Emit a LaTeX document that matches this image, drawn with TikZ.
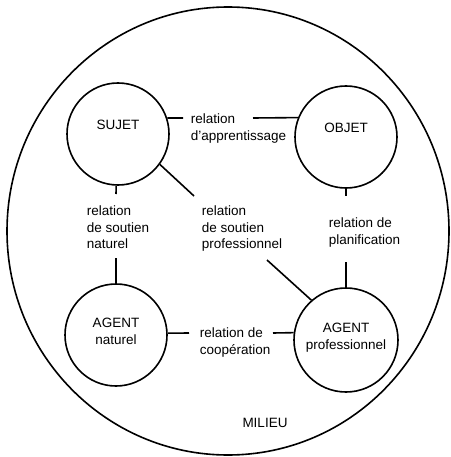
\documentclass[tikz,border=0pt]{standalone}
\usepackage{fontspec}
\setmainfont{Liberation Sans}
\begin{document}
\begin{tikzpicture}[x=1pt,y=-1pt,line width=1.6pt,
  font=\fontsize{13.5}{16.5}\selectfont,
  ent/.style={circle,draw,minimum size=102pt,inner sep=0pt},
  intext/.style={align=center,inner sep=0pt},
  rel/.style={align=left,anchor=north west,inner sep=0pt},
  link/.style={line width=1.6pt}]
\useasboundingbox (0,0) rectangle (450,457);
% milieu
\draw (228,231) ellipse [x radius=221pt, y radius=224pt];
\node[anchor=base,inner sep=0pt] (milieu) at (265,427) {MILIEU};
% entities
\node[ent,label={[intext,yshift=9pt]center:SUJET}] (sujet) at (118,134) {};
\node[ent,label={[intext,yshift=9pt]center:OBJET}] (objet) at (346,137) {};
\node[ent,label={[intext,yshift=3.5pt]center:AGENT\\naturel}] (agn) at (116,335) {};
\node[ent,minimum size=104pt,label={[intext,yshift=2.5pt]center:AGENT\\professionnel}] (agp) at (346,340) {};
% relation labels
\node[rel] (apr) at (190,113.3) {relation\\d'apprentissage};
\node[rel] (nat) at (86,205.3) {relation\\de soutien\\naturel};
\node[rel] (pro) at (201,205.3) {relation\\de soutien\\professionnel};
\node[rel] (pla) at (328,217.3) {relation de\\planification};
\node[rel] (coo) at (199,327.3) {relation de\\coopération};
% connector free ends
\coordinate (c1a) at (183,118);
\coordinate (c1b) at (253,118);
\coordinate (c2a) at (116,194);
\coordinate (c2b) at (116,258);
\coordinate (c3a) at (194,196);
\coordinate (c3b) at (267,260);
\coordinate (c4a) at (346,196);
\coordinate (c4b) at (346,262);
\coordinate (c5a) at (189,333);
\coordinate (c5b) at (273,333);
% connectors
\draw[link] (sujet.18) -- (c1a);
\draw[link] (c1b) -- (objet.158);
\draw[link] (sujet.-92) -- (c2a);
\draw[link] (c2b) -- (agn.90);
\draw[link] (sujet.-36) -- (c3a);
\draw[link] (c3b) -- (agp.131);
\draw[link] (objet.-90) -- (c4a);
\draw[link] (c4b) -- (agp.90);
\draw[link] (agn.2) -- (c5a);
\draw[link] (c5b) -- (agp.172);
\end{tikzpicture}
\end{document}
